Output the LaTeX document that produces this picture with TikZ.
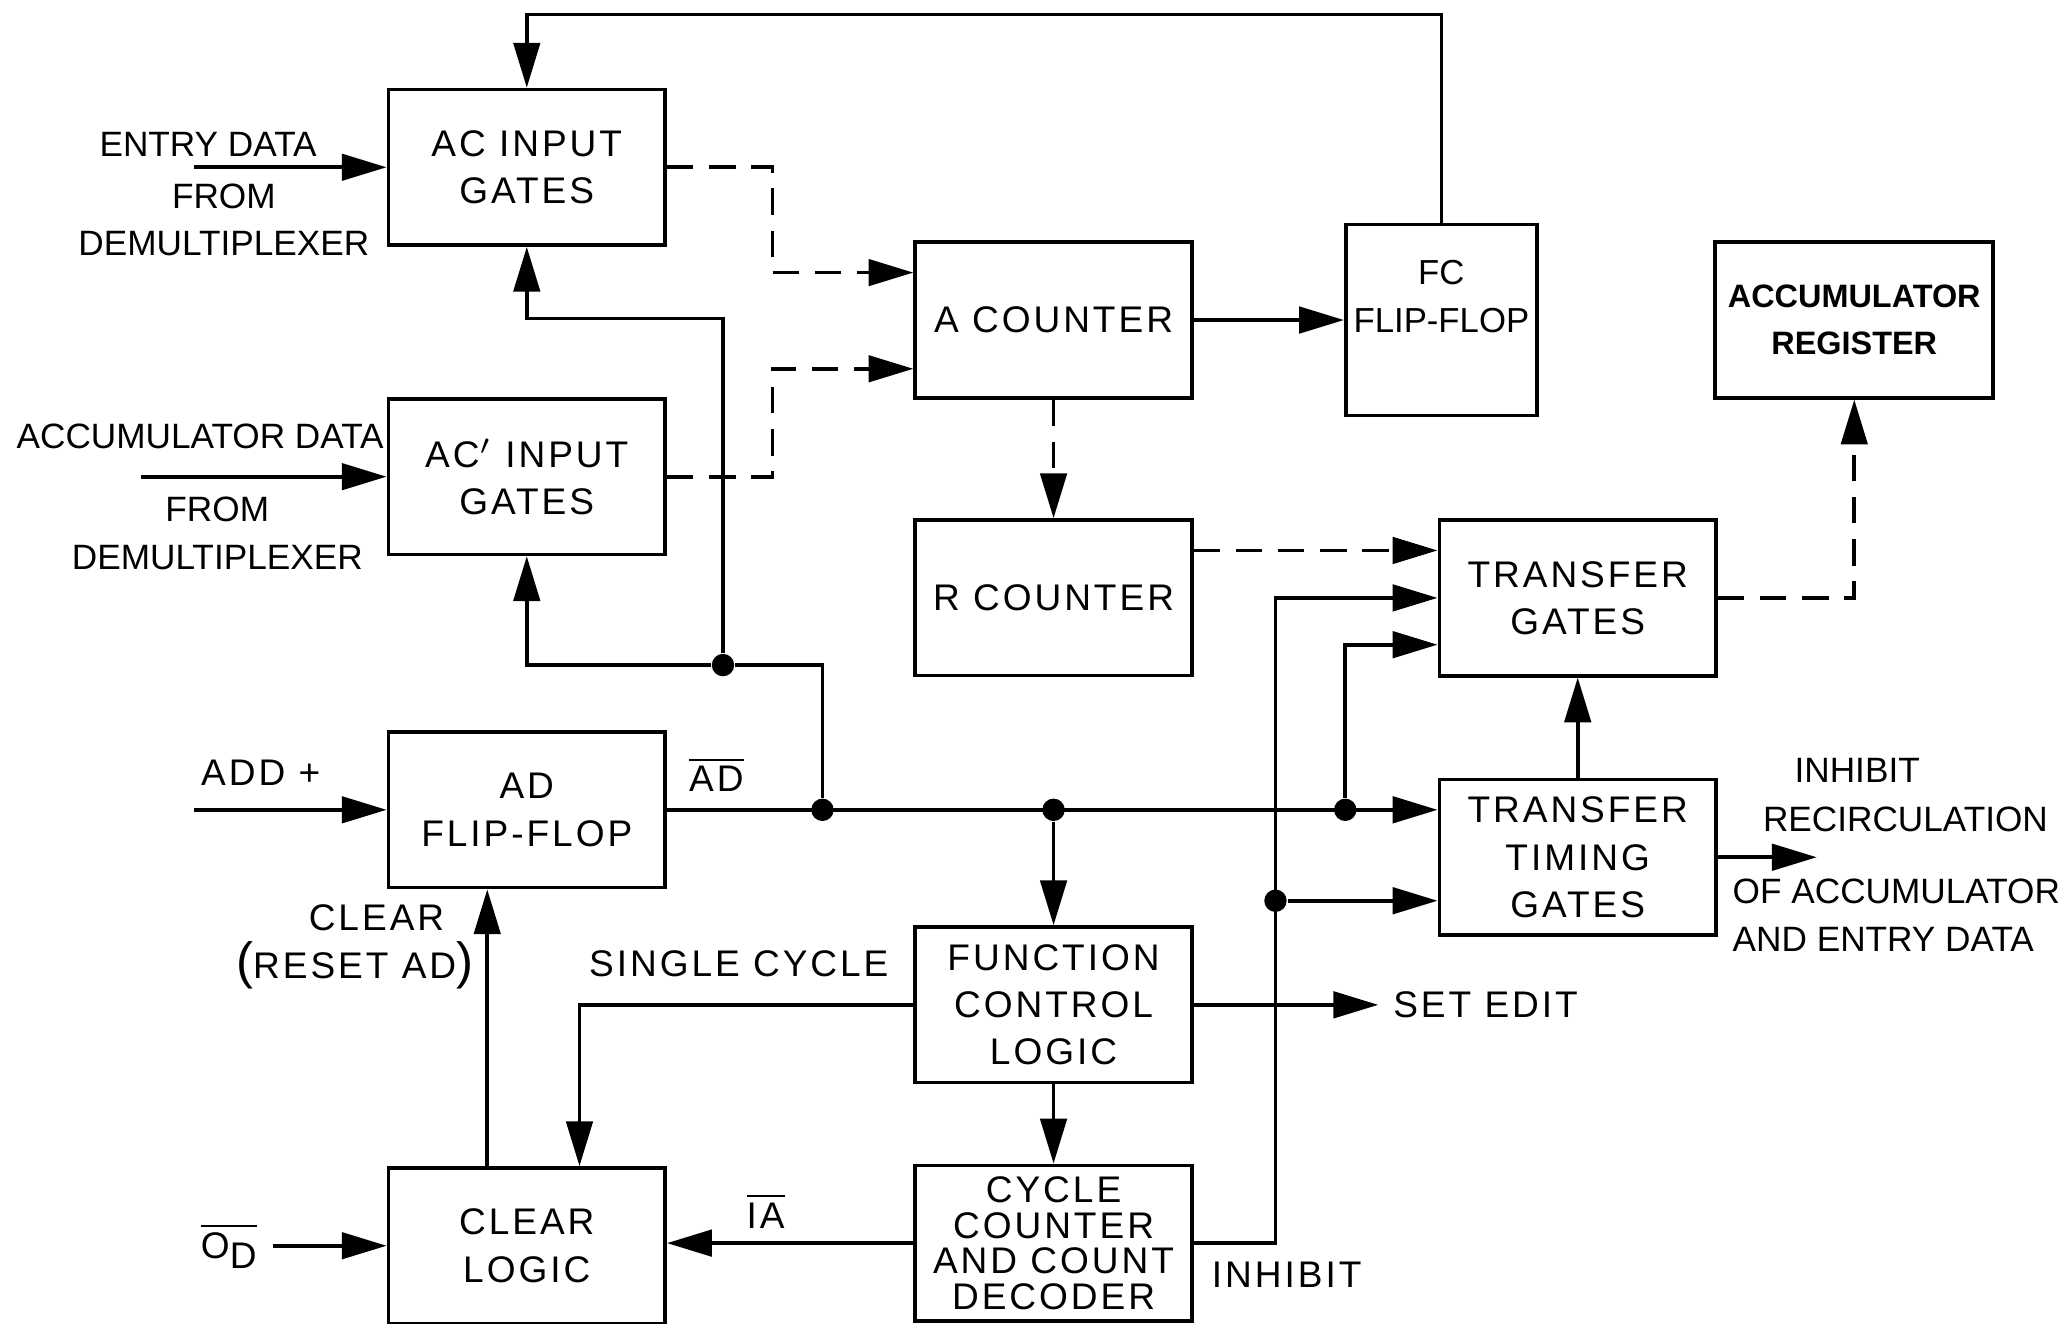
\documentclass[tikz,border=0pt]{standalone}
\usepackage{fontspec}
\setmainfont{Liberation Sans}
\newfontfamily\boxfont[LetterSpace=8]{Liberation Sans}
\usepackage{tikz}
\usetikzlibrary{arrows.meta, positioning}
\tikzset{
  block/.style={
    rectangle, draw, line width=0.8pt,
    minimum width=2.1cm, minimum height=1.18cm,
    inner sep=1pt, align=center,
    font=\boxfont\fontsize{8}{10.2}\selectfont,
  },
  arrow/.style={-{Triangle[length=3.4mm, width=2mm]}, line width=0.8pt},
  dasharrow/.style={arrow, dash pattern=on 2mm off 1.2mm},
  dot/.style={circle, fill, inner sep=0pt, minimum size=1.7mm},
  lbl/.style={font=\boxfont\fontsize{8}{10.2}\selectfont, inner sep=0pt},
  note/.style={font=\fontsize{7.6}{10.2}\selectfont, inner sep=0pt, align=center},
}
\begin{document}
\begin{tikzpicture}[x=0.01cm, y=-0.01cm]
  \useasboundingbox (0,0) rectangle (1568,1005);

  \node[block] (acin) at (400,127) {AC INPUT\\GATES};
  \node[block, below=1.14cm of acin] (acpin) {AC$'$ INPUT\\GATES};
  \node[block, below=1.32cm of acpin] (adff) {AD\\FLIP-FLOP};
  \node[block, below=2.10cm of adff] (clr) {CLEAR\\LOGIC};
  \node[block] (acnt) at (800,243) {A COUNTER};
  \node[block, right=1.14cm of acnt, minimum width=1.45cm, minimum height=1.45cm,
        font=\fontsize{7.5}{10.2}\selectfont] (fcff) {FC\\FLIP-FLOP\\ \mbox{}};
  \node[block, below=0.90cm of acnt] (rcnt) {R COUNTER};
  \node[block, minimum width=2.11cm, font=\bfseries\fontsize{7}{10.2}\selectfont] (accreg) at (1408,243) {ACCUMULATOR\\REGISTER};
  \node[block] (trg) at (1198,454) {TRANSFER\\GATES};
  \node[block, below=0.76cm of trg] (ttg) {TRANSFER\\TIMING\\GATES};
  \node[block] (fcl) at (800,763) {FUNCTION\\CONTROL\\LOGIC};
  \node[block, below=0.60cm of fcl, font=\boxfont\fontsize{8}{7.7}\selectfont] (cyc) {CYCLE\\COUNTER\\AND COUNT\\DECODER};

  \coordinate (k3) at (adff.east -| ttg.west);
  \coordinate (vx) at ([xshift=0.62cm]cyc.east);
  \coordinate (t5) at ([yshift=-0.33cm]ttg.west);
  \node[dot] (j1) at ([xshift=1.18cm]adff.east) {};
  \node[dot] (j2) at (fcl.north |- adff.east) {};
  \node[dot] (j3) at ([xshift=-0.7cm]k3) {};
  \node[dot] (j4) at (549,505) {};
  \node[dot] (j5) at (vx |- t5) {};

  \coordinate (ftop) at ([yshift=1.58cm]fcff.north);
  \draw[arrow] (fcff.north) -- (ftop) -| (acin.north);

  \coordinate (entry) at ([xshift=-1.46cm]acin.west);
  \draw[arrow] (entry) -- (acin.west);
  \node[note] (entrylbl) at (158,110) {ENTRY DATA};
  \node[note] (entrylbl2) at (170,167) {FROM\\DEMULTIPLEXER};

  \coordinate (accin) at ([xshift=-1.86cm]acpin.west);
  \draw[arrow] (accin) -- (acpin.west);
  \node[note, anchor=east] (acclbl) at (292,331) {ACCUMULATOR DATA};
  \node[note] (acclbl2) at (165,405) {FROM\\DEMULTIPLEXER};

  \coordinate (a1) at ([yshift=0.36cm]acnt.west);
  \coordinate (a2) at ([yshift=-0.37cm]acnt.west);
  \draw[dasharrow] (acin.east) -| ([xshift=-1.07cm]a1) -- (a1);
  \draw[dasharrow] (acpin.east) -| ([xshift=-1.07cm]a2) -- (a2);
  \draw[arrow] (acnt.east) -- (fcff.west);
  \draw[dasharrow] (acnt.south) -- (rcnt.north);

  \coordinate (t1) at ([yshift=0.36cm]trg.west);
  \draw[dasharrow] (rcnt.east |- t1) -- (t1);
  \draw[dasharrow] (trg.east) -| (accreg.south);
  \draw[arrow] (ttg.north) -- (trg.south);

  \coordinate (recirc) at ([xshift=0.75cm]ttg.east);
  \draw[arrow] (ttg.east) -- (recirc);
  \node[note, anchor=west] (rclbl1) at (1362,585) {INHIBIT};
  \node[note, anchor=west] (rclbl2) at (1338,622) {RECIRCULATION};
  \node[note, anchor=west, align=left] (rclbl3) at (1315,695) {OF ACCUMULATOR\\AND ENTRY DATA};

  \coordinate (addin) at ([xshift=-1.46cm]adff.west);
  \draw[arrow] (addin) -- (adff.west);
  \node[lbl] (addlbl) at (198,587) {ADD +};
  \node[lbl] (adlbl) at (544,588) {$\overline{\mbox{AD}}$};
  \draw[arrow] (adff.east) -- (k3);

  \draw[arrow] (j1) |- (j4) -| (acpin.south);
  \coordinate (k2) at ([yshift=2.63cm]j4);
  \draw[arrow] (j4) -- (k2) -| (acin.south);
  \draw[arrow] (j2) -- (fcl.north);
  \coordinate (t3) at ([yshift=-0.355cm]trg.west);
  \draw[arrow] (j3) |- (t3);

  \draw[arrow] (cyc.east) -- (vx) |- (trg.west);
  \draw[arrow] (j5) -- (t5);
  \node[lbl] (inhlbl) at (977,968) {INHIBIT};

  \coordinate (setedit) at ([xshift=1.4cm]fcl.east);
  \draw[arrow] (fcl.east) -- (setedit) node[lbl, right=0.1cm] (seteditlbl) {SET EDIT};
  \draw[arrow] (fcl.west) -| ([xshift=0.4cm]clr.north);
  \node[lbl] (sclbl) at (561,732) {SINGLE CYCLE};
  \draw[arrow] (fcl.south) -- (cyc.north);
  \draw[arrow] (cyc.west) -- (cyc.west -| clr.east) node[lbl, pos=0.6, above=0.1cm] (ialbl) {$\overline{\mbox{IA}}$};

  \coordinate (odin) at ([xshift=-0.86cm]clr.west);
  \draw[arrow] (odin) -- (clr.west);
  \node[lbl, left=0.12cm of odin] (odlbl) {$\overline{\mbox{O\raisebox{-0.5ex}{D}}}$};

  \draw[arrow] ([xshift=-0.3cm]clr.north) -- ([xshift=-0.3cm]adff.south);
  \node[lbl, anchor=east] (clrlbl) at (338,697) {CLEAR};
  \node[lbl, anchor=east] (rstlbl) at (360,733) {{\fontsize{11}{11}\selectfont(}RESET AD{\fontsize{11}{11}\selectfont)}};
\end{tikzpicture}
\end{document}
